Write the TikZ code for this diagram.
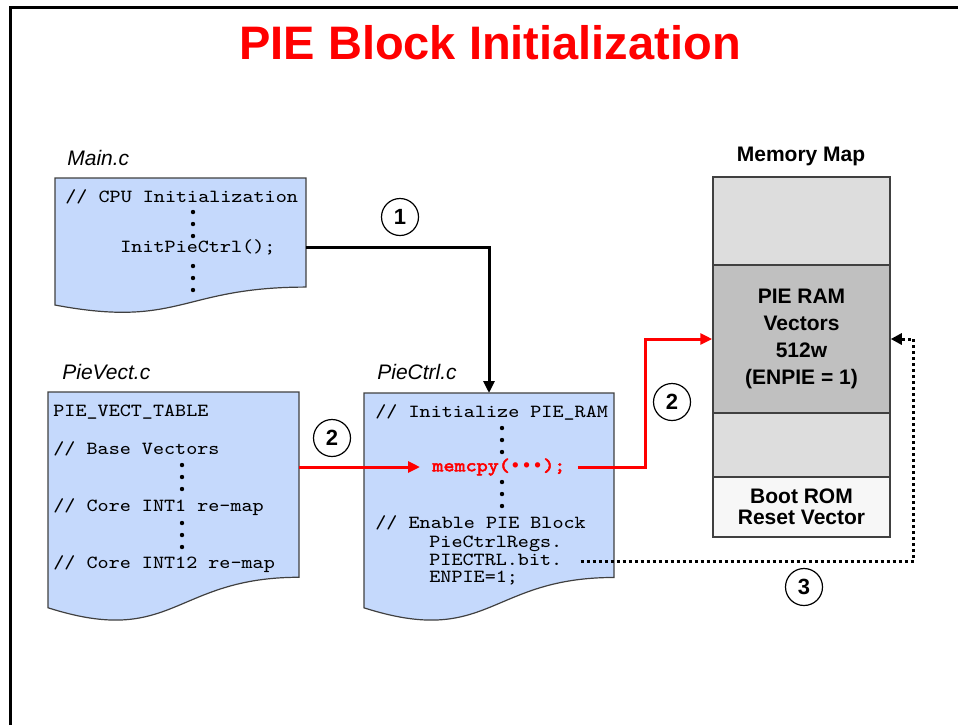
\documentclass[tikz,border=0pt]{standalone}
\usepackage{fontspec}
\setmainfont{Liberation Sans}
\newfontfamily\codefont[FakeStretch=1.14]{Latin Modern Mono}
\newfontfamily\codeboldfont[FakeStretch=1.14,FakeBold=2.5]{Latin Modern Mono}
\newfontfamily\bulletfont{Liberation Mono}
\usepackage{tikz}
\usetikzlibrary{arrows.meta,calc}
\definecolor{TitleRed}{RGB}{255,0,0}
\definecolor{DocFill} {RGB}{197,217,252}
\definecolor{DocLine} {RGB}{64,64,64}
\definecolor{MemLight}{RGB}{221,221,221}
\definecolor{MemPie}  {RGB}{192,192,192}
\definecolor{MemBoot} {RGB}{247,247,247}
\tikzset{
  nd_title/.style={font=\bfseries\fontsize{23.5}{28}\selectfont,text=TitleRed},
  nd_file/.style={anchor=west,inner sep=0pt,font=\itshape\fontsize{10.5}{12.6}\selectfont},
  nd_code/.style={anchor=west,inner sep=0pt,align=left,font=\codefont\fontsize{9.25}{8.75}\selectfont},
  nd_mem/.style={rectangle,draw=DocLine,line width=0.75pt,minimum width=88.5pt,align=center,font=\bfseries\fontsize{10.5}{13.5}\selectfont},
  nd_num/.style={circle,draw=black,fill=white,line width=0.6pt,minimum size=18.5pt,inner sep=0pt,font=\bfseries\fontsize{11}{13}\selectfont},
  arr/.style={-{Triangle[length=6pt,width=5.5pt]},line width=1.5pt},
  arr_red/.style={arr,draw=red},
  arr_dot/.style={-{Triangle[length=5.5pt,width=5.5pt]},line width=1.5pt,dash pattern=on 1.5pt off 1.5pt},
}
\newcommand{\docbox}[5]{%
  \filldraw[fill=DocFill,draw=DocLine,line width=0.6pt](#2,#3) -- (#4,#3) -- (#4,#3+0.802*#5)
    .. controls (#2/2+#4/2,#3+0.802*#5) and (#2/2+#4/2,#3+1.1075*#5) .. (#2,#3+0.934*#5) -- cycle;
  \coordinate (#1-n) at (#2/2+#4/2,#3);
  \coordinate (#1-ne) at (#4,#3);}
\newcommand{\codedots}[2]{%
  \foreach \dy in {0,12,24}{\fill (#1,#2+\dy) circle (1.1pt);}}

\begin{document}
\begin{tikzpicture}[x=0.5pt,y=-0.5pt]
\useasboundingbox (0,0) rectangle (958,725);
\draw[line width=1.5pt] (10,725) -- (10,7) -- (958,7);
\node[nd_title] (title) at (490,43) {PIE Block Initialization};
% Main.c
\node[nd_file] (mainlbl) at (67,158) {Main.c};
\docbox{main}{55}{178}{306}{136}
\node[nd_code] (cpuinit) at (65,197) {// CPU Initialization};
\codedots{193}{212}
\node[nd_code] (callinit) at (120,247) {InitPieCtrl();};
\codedots{193}{266}
% PieVect.c
\node[nd_file] (vectlbl) at (62,372) {PieVect.c};
\docbox{vect}{48}{392}{299}{231}
\node[nd_code] (vtable) at (53,412) {PIE\_VECT\_TABLE};
\node[nd_code] (vbase) at (53,449) {// Base Vectors};
\codedots{182}{465}
\node[nd_code] (vint1) at (53,507) {// Core INT1 re-map};
\codedots{182}{523}
\node[nd_code] (vint12) at (53,564) {// Core INT12 re-map};
% PieCtrl.c
\node[nd_file] (ctrllbl) at (377,372) {PieCtrl.c};
\docbox{ctrl}{364}{393}{614}{230}
\node[nd_code] (cinit) at (375,412) {// Initialize PIE\_RAM};
\codedots{502}{428}
\node[nd_code,inner sep=6pt,text=red,font=\codeboldfont\fontsize{9.25}{11}\selectfont] (memcpy) at (420,467) {memcpy({\bulletfont\bfseries •••});};
\codedots{502}{482}
\node[nd_code] (cenable) at (375,523) {// Enable PIE Block};
\node[nd_code] (ctrlregs) at (429,561) {PieCtrlRegs.\\PIECTRL.bit.\\ENPIE=1;};
% Memory map
\node[font=\bfseries\fontsize{10.5}{12.6}\selectfont] (memlbl) at (801,156) {Memory Map};
\node[nd_mem,fill=MemLight,minimum height=44pt] (mTop) at (801.5,221) {};
\node[nd_mem,fill=MemPie,minimum height=74pt] (mPie) at (801.5,339) {PIE RAM\\Vectors\\512w\\(ENPIE = 1)};
\node[nd_mem,fill=MemLight,minimum height=32pt] (mMid) at (801.5,445) {};
\node[nd_mem,fill=MemBoot,minimum height=30pt,font=\bfseries\fontsize{10.5}{10.5}\selectfont] (mBoot) at (801.5,507) {Boot ROM\\Reset Vector};
% arrows
\draw[arr](callinit.east -| main-ne) -| (ctrl-n);
\node[nd_num] (n1) at (400,217) {1};
\draw[arr_red](memcpy.west -| vect-ne) -- (memcpy.west);
\node[nd_num] (n2a) at (332,438) {2};
\draw[arr_red](memcpy.east) -| ($(memcpy.east)!0.5!(mPie.west)$) |- (mPie.west);
\node[nd_num] (n2b) at (672,402) {2};
\draw[arr_dot]([xshift=9pt]ctrlregs.east) -| ($(mPie.east)+(23,0)$) -- (mPie.east);
\node[nd_num] (n3) at (804,587) {3};
\end{tikzpicture}
\end{document}
